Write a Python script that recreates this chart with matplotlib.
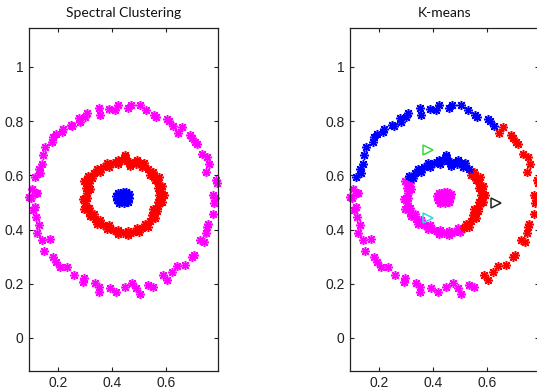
import matplotlib
matplotlib.use("Agg")
import matplotlib.pyplot as plt

outer_x = [0.099, 0.094, 0.123, 0.119, 0.103, 0.115, 0.133, 0.131, 0.140, 0.146,
           0.152, 0.177, 0.183, 0.193, 0.214, 0.220, 0.247, 0.254, 0.281, 0.279,
           0.300, 0.309, 0.356, 0.353, 0.389, 0.411, 0.423, 0.458, 0.469, 0.504,
           0.528, 0.556, 0.563, 0.603, 0.611, 0.625, 0.646, 0.658, 0.689, 0.697,
           0.707, 0.714, 0.732, 0.753, 0.760, 0.748, 0.786, 0.790, 0.775, 0.781,
           0.779, 0.775, 0.757, 0.753, 0.748, 0.741, 0.726, 0.704, 0.695, 0.670,
           0.640, 0.621, 0.603, 0.590, 0.553, 0.534, 0.504, 0.491, 0.473, 0.448,
           0.417, 0.393, 0.351, 0.353, 0.337, 0.294, 0.296, 0.259, 0.232, 0.207,
           0.193, 0.183, 0.148, 0.170, 0.140, 0.123, 0.131, 0.119, 0.108, 0.115]
outer_y = [0.518, 0.520, 0.535, 0.533, 0.551, 0.594, 0.607, 0.625, 0.643, 0.674,
           0.705, 0.723, 0.741, 0.754, 0.760, 0.772, 0.785, 0.781, 0.797, 0.813,
           0.815, 0.830, 0.821, 0.850, 0.843, 0.840, 0.858, 0.850, 0.858, 0.861,
           0.840, 0.824, 0.815, 0.809, 0.800, 0.781, 0.756, 0.778, 0.748, 0.739,
           0.723, 0.715, 0.680, 0.668, 0.643, 0.613, 0.582, 0.572, 0.527, 0.515,
           0.496, 0.459, 0.422, 0.410, 0.386, 0.355, 0.361, 0.306, 0.300, 0.269,
           0.265, 0.244, 0.214, 0.232, 0.189, 0.195, 0.162, 0.183, 0.201, 0.189,
           0.171, 0.183, 0.171, 0.189, 0.201, 0.207, 0.220, 0.232, 0.260, 0.263,
           0.281, 0.300, 0.322, 0.364, 0.361, 0.386, 0.416, 0.447, 0.471, 0.484]

# middle ring: centre line, outer edge, inner edge, in-between points
# (each block of 26 goes round the ring in the same order)
mid_x = [0.319, 0.349, 0.386, 0.423, 0.448, 0.467, 0.491, 0.516, 0.547, 0.566,
         0.578, 0.584, 0.578, 0.559, 0.553, 0.528, 0.497, 0.460, 0.423, 0.386,
         0.349, 0.325, 0.306, 0.300, 0.312, 0.306,
         0.312, 0.343, 0.382, 0.422, 0.448, 0.468, 0.494, 0.520, 0.553, 0.573,
         0.586, 0.592, 0.586, 0.566, 0.559, 0.533, 0.500, 0.461, 0.422, 0.382,
         0.343, 0.318, 0.298, 0.292, 0.304, 0.298,
         0.326, 0.355, 0.390, 0.424, 0.448, 0.466, 0.488, 0.512, 0.541, 0.559,
         0.570, 0.576, 0.570, 0.552, 0.547, 0.523, 0.494, 0.459, 0.424, 0.390,
         0.355, 0.332, 0.314, 0.308, 0.320, 0.314,
         0.334, 0.368, 0.404, 0.436, 0.457, 0.479, 0.504, 0.532, 0.557, 0.572,
         0.581, 0.581, 0.569, 0.556, 0.541, 0.513, 0.479, 0.441, 0.404, 0.367,
         0.337, 0.315, 0.302, 0.306, 0.309, 0.312]
mid_y = [0.594, 0.619, 0.637, 0.649, 0.668, 0.643, 0.649, 0.637, 0.607, 0.588,
         0.557, 0.527, 0.502, 0.471, 0.447, 0.416, 0.398, 0.386, 0.392, 0.410,
         0.428, 0.453, 0.478, 0.515, 0.551, 0.576,
         0.598, 0.625, 0.644, 0.657, 0.676, 0.651, 0.657, 0.644, 0.612, 0.592,
         0.559, 0.527, 0.501, 0.468, 0.442, 0.410, 0.391, 0.378, 0.384, 0.403,
         0.422, 0.449, 0.475, 0.514, 0.553, 0.579,
         0.590, 0.613, 0.630, 0.641, 0.660, 0.635, 0.641, 0.630, 0.602, 0.584,
         0.555, 0.527, 0.503, 0.474, 0.452, 0.422, 0.405, 0.394, 0.400, 0.417,
         0.434, 0.457, 0.481, 0.516, 0.549, 0.573,
         0.608, 0.629, 0.644, 0.657, 0.654, 0.645, 0.644, 0.623, 0.598, 0.572,
         0.542, 0.514, 0.487, 0.459, 0.432, 0.406, 0.391, 0.388, 0.400, 0.418,
         0.440, 0.465, 0.496, 0.533, 0.563, 0.585]

# inner blob
inner_x = [0.440, 0.425, 0.455, 0.432, 0.450, 0.442, 0.420, 0.462, 0.430,
           0.445, 0.415, 0.452, 0.465, 0.427, 0.458, 0.436, 0.448, 0.422]
inner_y = [0.518, 0.522, 0.525, 0.505, 0.505, 0.538, 0.510, 0.515, 0.532,
           0.498, 0.525, 0.540, 0.530, 0.498, 0.500, 0.528, 0.520, 0.535]

# k-means labels per point (m = magenta, b = blue, r = red)
km_outer = "mmmmm" + "b" * 31 + "r" * 28 + "m" * 26
km_mid_ring = "bbbbbbbbrrrrrrrrmmmmmmmmmm"   # one lap of 26, same for every block
km_inner = "m" * 18

# k-means centroids (triangles)
cent_x = [0.383, 0.380, 0.632]
cent_y = [0.692, 0.441, 0.496]
cent_colors = ['#3dd63d', '#35d6d6', '#222222']

colors = {'m': '#ff00ff', 'r': '#ff0000', 'b': '#0000ff'}
xticks = [0.2, 0.4, 0.6]
xticklabels = ['0.2', '0.4', '0.6']
yticks = [0, 0.2, 0.4, 0.6, 0.8, 1]
yticklabels = ['0', '0.2', '0.4', '0.6', '0.8', '1']

star = (8, 2, 0)


def style_axes(ax, title):
    ax.set_xlim(0.093, 0.793)
    ax.set_ylim(-0.122, 1.144)
    ax.set_xticks(xticks)
    ax.set_xticklabels(xticklabels, family='Liberation Sans')
    ax.set_yticks(yticks)
    ax.set_yticklabels(yticklabels, family='Liberation Sans')
    ax.tick_params(direction='in', length=3, width=0.8, top=True, right=True,
                   labelsize=10, colors='#222222', pad=4)
    for s in ax.spines.values():
        s.set_color('#222222')
        s.set_linewidth(0.9)
    ax.set_title(title, fontsize=10, family='Lato', color='#111111', pad=8)


def draw(ax, xs, ys, labels):
    for key in 'mrb':
        px = [x for x, l in zip(xs, labels) if l == key]
        py = [y for y, l in zip(ys, labels) if l == key]
        ax.plot(px, py, linestyle='none', marker=star, ms=6.5, mew=1.1,
                color=colors[key], clip_on=False)


fig = plt.figure(figsize=(5.37, 3.88), dpi=100)
ax1 = fig.add_axes([0.054, 0.044, 0.352, 0.884])
ax2 = fig.add_axes([0.652, 0.044, 0.352, 0.884])

# spectral clustering: one colour per ring
draw(ax1, outer_x, outer_y, "m" * len(outer_x))
draw(ax1, mid_x, mid_y, "r" * len(mid_x))
draw(ax1, inner_x, inner_y, "b" * len(inner_x))
style_axes(ax1, 'Spectral Clustering')

# k-means
draw(ax2, outer_x, outer_y, km_outer)
draw(ax2, mid_x, mid_y, km_mid_ring * 4)
draw(ax2, inner_x, inner_y, km_inner)
for cx, cy, cc in zip(cent_x, cent_y, cent_colors):
    ax2.plot([cx], [cy], linestyle='none', marker='>', ms=7, mfc='none',
             mec=cc, mew=1.1)
style_axes(ax2, 'K-means')

fig.savefig('out.png', dpi=100)
